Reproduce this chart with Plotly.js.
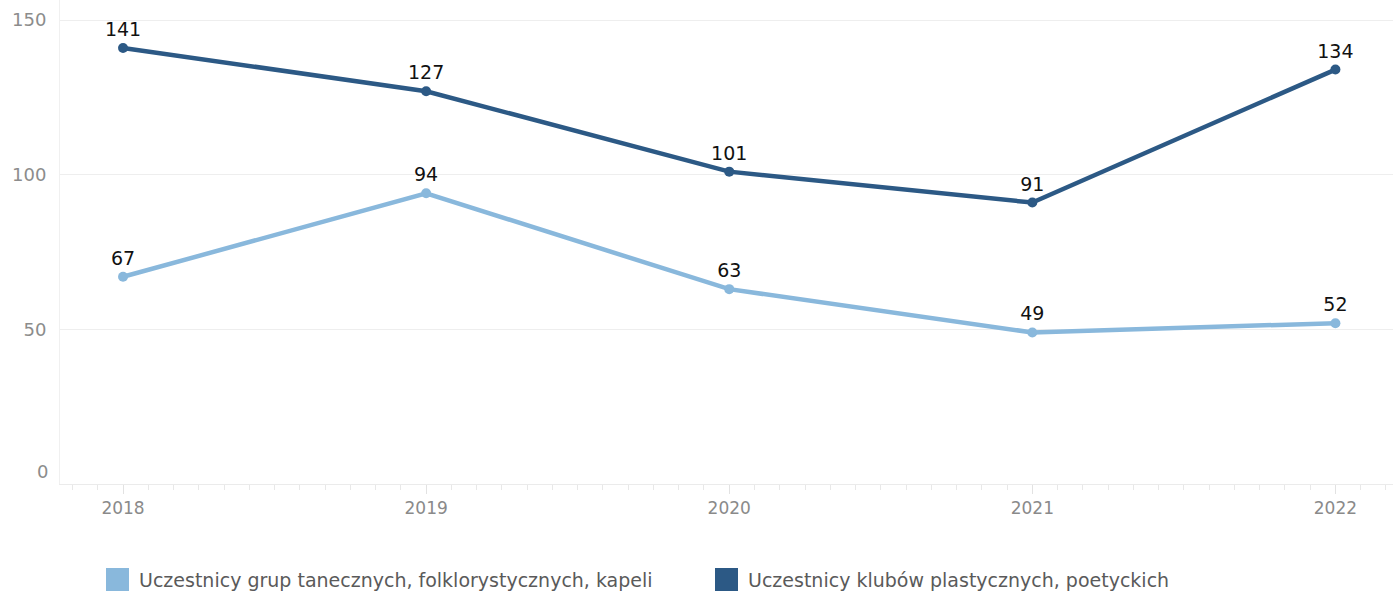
<!DOCTYPE html>
<html>
<head>
<meta charset="utf-8">
<script src="https://cdn.plot.ly/plotly-3.0.1.min.js"></script>
<style>
html,body{margin:0;padding:0;background:#fff;}
#chart{width:1393px;height:594px;}
</style>
</head>
<body>
<div id="chart"></div>
<script>
// ---- data ----
const years = [2018, 2019, 2020, 2021, 2022];
const yearLabels = ["2018", "2019", "2020", "2021", "2022"];
const seriesNames = [
  "Uczestnicy grup tanecznych, folklorystycznych, kapeli",
  "Uczestnicy klubów plastycznych, poetyckich"
];
const danceGroups = [67, 94, 63, 49, 52];
const artClubs = [141, 127, 101, 91, 134];
const yTicks = [0, 50, 100, 150];
const yTickLabels = ["0", "50", "100", "150"];

// ---- styles ----
const FONT = 'DejaVu Sans, sans-serif';
const colors = ["#89b8dc", "#2c5985"];
const W = 1393, H = 594;
const mL = 60, mR = 0, mT = 0, mB = 110;
const plotW = W - mL - mR, plotH = H - mT - mB;
const px2x = p => (p - mL) / plotW;
const px2y = p => (H - mB - p) / plotH;

function lineTrace(y, name, color) {
  return {
    x: years, y: y, name: name,
    type: 'scatter', mode: 'lines+markers+text',
    line: {color: color, width: 4.5},
    marker: {color: color, size: 10},
    text: y.map(String),
    textposition: 'top center',
    textfont: {family: FONT, size: 19, color: '#111'},
    cliponaxis: false,
    hoverinfo: 'x+y',
    showlegend: false
  };
}

const traces = [
  lineTrace(danceGroups, seriesNames[0], colors[0]),
  lineTrace(artClubs, seriesNames[1], colors[1])
];

// legend drawn with shapes + annotations
const legendItems = [
  {sq: 106, tx: 137},
  {sq: 715, tx: 746}
];
const shapes = [];
const annotations = [];
legendItems.forEach((it, i) => {
  shapes.push({
    type: 'rect', xref: 'paper', yref: 'paper',
    x0: px2x(it.sq), x1: px2x(it.sq + 23),
    y0: px2y(568), y1: px2y(591),
    fillcolor: colors[i], line: {width: 0}
  });
  annotations.push({
    xref: 'paper', yref: 'paper', x: px2x(it.tx), y: px2y(580),
    xanchor: 'left', yanchor: 'middle', showarrow: false,
    text: seriesNames[i],
    font: {family: FONT, size: 19, color: '#5a5a5a'}
  });
});
// "0" label shifted up like reference
annotations.push({
  xref: 'paper', yref: 'y', x: 0, y: yTicks[0], xanchor: 'right', yanchor: 'middle',
  xshift: -10, yshift: 13, showarrow: false, text: yTickLabels[0],
  font: {family: FONT, size: 18, color: '#8c8c8c'}
});

const layout = {
  width: W, height: H,
  margin: {l: mL, r: mR, t: mT, b: mB, pad: 0},
  paper_bgcolor: '#fff', plot_bgcolor: '#fff',
  showlegend: false,
  xaxis: {
    type: 'linear',
    range: [2017.792, 2022.19],
    tickvals: years, ticktext: yearLabels,
    ticks: 'outside', ticklen: 9, tickcolor: '#e2e2e2', tickwidth: 1,
    minor: {dtick: 1/12, tick0: 2018, ticks: 'outside', ticklen: 5, tickcolor: '#e8e8e8', showgrid: false},
    showgrid: false, zeroline: false,
    showline: true, linecolor: '#ebebeb', linewidth: 1,
    tickfont: {family: FONT, size: 17, color: '#8a8a8a'},
    fixedrange: true
  },
  yaxis: {
    range: [0, 156.5],
    tickvals: yTicks, ticktext: ['', yTickLabels[1], yTickLabels[2], yTickLabels[3]],
    ticks: '', ticklabelstandoff: 9,
    showgrid: true, gridcolor: '#eeeeee', gridwidth: 1,
    zeroline: false,
    showline: true, linecolor: '#f0f0f0', linewidth: 1,
    tickfont: {family: FONT, size: 18, color: '#8c8c8c'},
    fixedrange: true
  },
  shapes: shapes,
  annotations: annotations
};

Plotly.newPlot('chart', traces, layout, {displayModeBar: false, staticPlot: true});
</script>
</body>
</html>
